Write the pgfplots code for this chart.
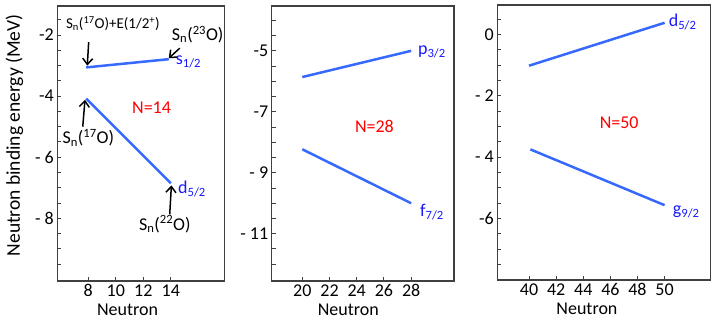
\documentclass[border=0pt]{standalone}
\usepackage{fontspec}
\setmainfont{Carlito}
\usepackage{pgfplots}
\pgfplotsset{compat=1.18}
\usetikzlibrary{arrows.meta}
\definecolor{lineblue}{RGB}{55,105,255}
\definecolor{lblblue}{RGB}{25,25,250}
\definecolor{nred}{RGB}{255,0,0}
\definecolor{framegray}{RGB}{64,64,64}
\pgfplotsset{
  panel/.style={
    scale only axis, height=275pt,
    axis line style={framegray, line width=1.1pt},
    tick style={framegray, line width=1pt},
    tick align=inside, tick pos=left,
    major tick length=4pt, minor tick length=4pt,
    tick label style={font=\fontsize{18}{20}\selectfont},
    label style={font=\fontsize{18}{20}\selectfont},
    /pgf/number format/assume math mode=true,
    xlabel={Neutron},
    xlabel style={at={(ticklabel cs:0.42)},anchor=north},
    clip=false,
  },
}
\tikzset{
  bl/.style={color=lineblue, line width=2.5pt, mark=none},
  lbl/.style={text=lblblue, font=\fontsize{18}{20}\selectfont, anchor=west, inner sep=0pt},
  nlab/.style={text=nred, font=\fontsize{18}{20}\selectfont},
  ann/.style={font=\fontsize{18}{20}\selectfont, inner sep=0pt},
  arr/.style={black, line width=1.5pt, -{Straight Barb[length=6pt,width=10pt]}},
}
\begin{document}
\begin{tikzpicture}
\useasboundingbox (0,0) rectangle (720pt,326pt);
% Panel 1
\begin{axis}[panel, at={(57.3pt,45pt)}, anchor=south west, width=167.2pt,
  xmin=5.75, xmax=17.9, ymin=-10.05, ymax=-1.05,
  xtick={8,10,12,14},
  ytick={-8,-6,-4,-2}, yticklabels={{- 8},{- 6},{-4},{-2}},
  minor ytick={-9.5,-9,...,-1.5},
  ylabel={Neutron binding energy (MeV)},
  ylabel style={font=\fontsize{19.5}{22}\selectfont, at={(ticklabel cs:0.53,5pt)}}]
\addplot[bl] coordinates {(7.85,-3.06) (13.85,-2.79)};
\addplot[bl] coordinates {(7.85,-4.08) (14,-6.85)};
\node[ann, font=\fontsize{15}{17}\selectfont] at (axis cs:9.79,-1.62) {S\textsubscript{n}(\textsuperscript{17}O)+E(1/2\textsuperscript{+})};
\draw[arr] (axis cs:8.03,-2.23) -- (axis cs:7.93,-3.0);
\node[ann] at (axis cs:15.95,-1.98) {S\textsubscript{n}(\textsuperscript{23}O)};
\draw[arr] (axis cs:14.65,-2.43) -- (axis cs:13.85,-2.76);
\node[lbl] at (axis cs:14.35,-2.87) {s\textsubscript{1/2}};
\node[nlab] at (axis cs:12.6,-4.38) {N=14};
\node[ann] at (axis cs:8.0,-5.36) {S\textsubscript{n}(\textsuperscript{17}O)};
\draw[arr] (axis cs:7.6,-5.0) -- (axis cs:7.76,-4.12);
\node[lbl] at (axis cs:14.52,-7.05) {d\textsubscript{5/2}};
\node[ann] at (axis cs:13.56,-8.19) {S\textsubscript{n}(\textsuperscript{22}O)};
\draw[arr] (axis cs:13.92,-7.87) -- (axis cs:14.04,-6.92);
\end{axis}
% Panel 2
\begin{axis}[panel, at={(271.7pt,45pt)}, anchor=south west, width=182.3pt,
  xmin=17.75, xmax=31.15, ymin=-12.55, ymax=-3.53,
  xtick={20,22,24,26,28},
  ytick={-11,-9,-7,-5}, yticklabels={{- 11},{- 9},{-7},{-5}},
  minor ytick={-12,-11.5,...,-4}]
\addplot[bl] coordinates {(20,-5.86) (28,-5.0)};
\addplot[bl] coordinates {(20,-8.23) (28,-10.0)};
\node[lbl] at (axis cs:28.5,-5.03) {p\textsubscript{3/2}};
\node[lbl] at (axis cs:28.65,-10.28) {f\textsubscript{7/2}};
\node[nlab] at (axis cs:25.3,-7.49) {N=28};
\end{axis}
% Panel 3
\begin{axis}[panel, at={(497.3pt,46pt)}, anchor=south west, width=213.4pt,
  xmin=37.66, xmax=53.4, ymin=-8.01, ymax=0.96,
  xtick={40,42,44,46,48,50},
  ytick={-6,-4,-2,0}, yticklabels={{-6},{- 4},{- 2},{0}},
  minor ytick={-7.5,-7,...,0.5}]
\addplot[bl] coordinates {(40,-1.02) (50,0.38)};
\addplot[bl] coordinates {(40.1,-3.75) (50,-5.57)};
\node[lbl] at (axis cs:50.3,0.41) {d\textsubscript{5/2}};
\node[lbl] at (axis cs:50.6,-5.78) {g\textsubscript{9/2}};
\node[nlab] at (axis cs:46.65,-2.88) {N=50};
\end{axis}
\end{tikzpicture}
\end{document}
